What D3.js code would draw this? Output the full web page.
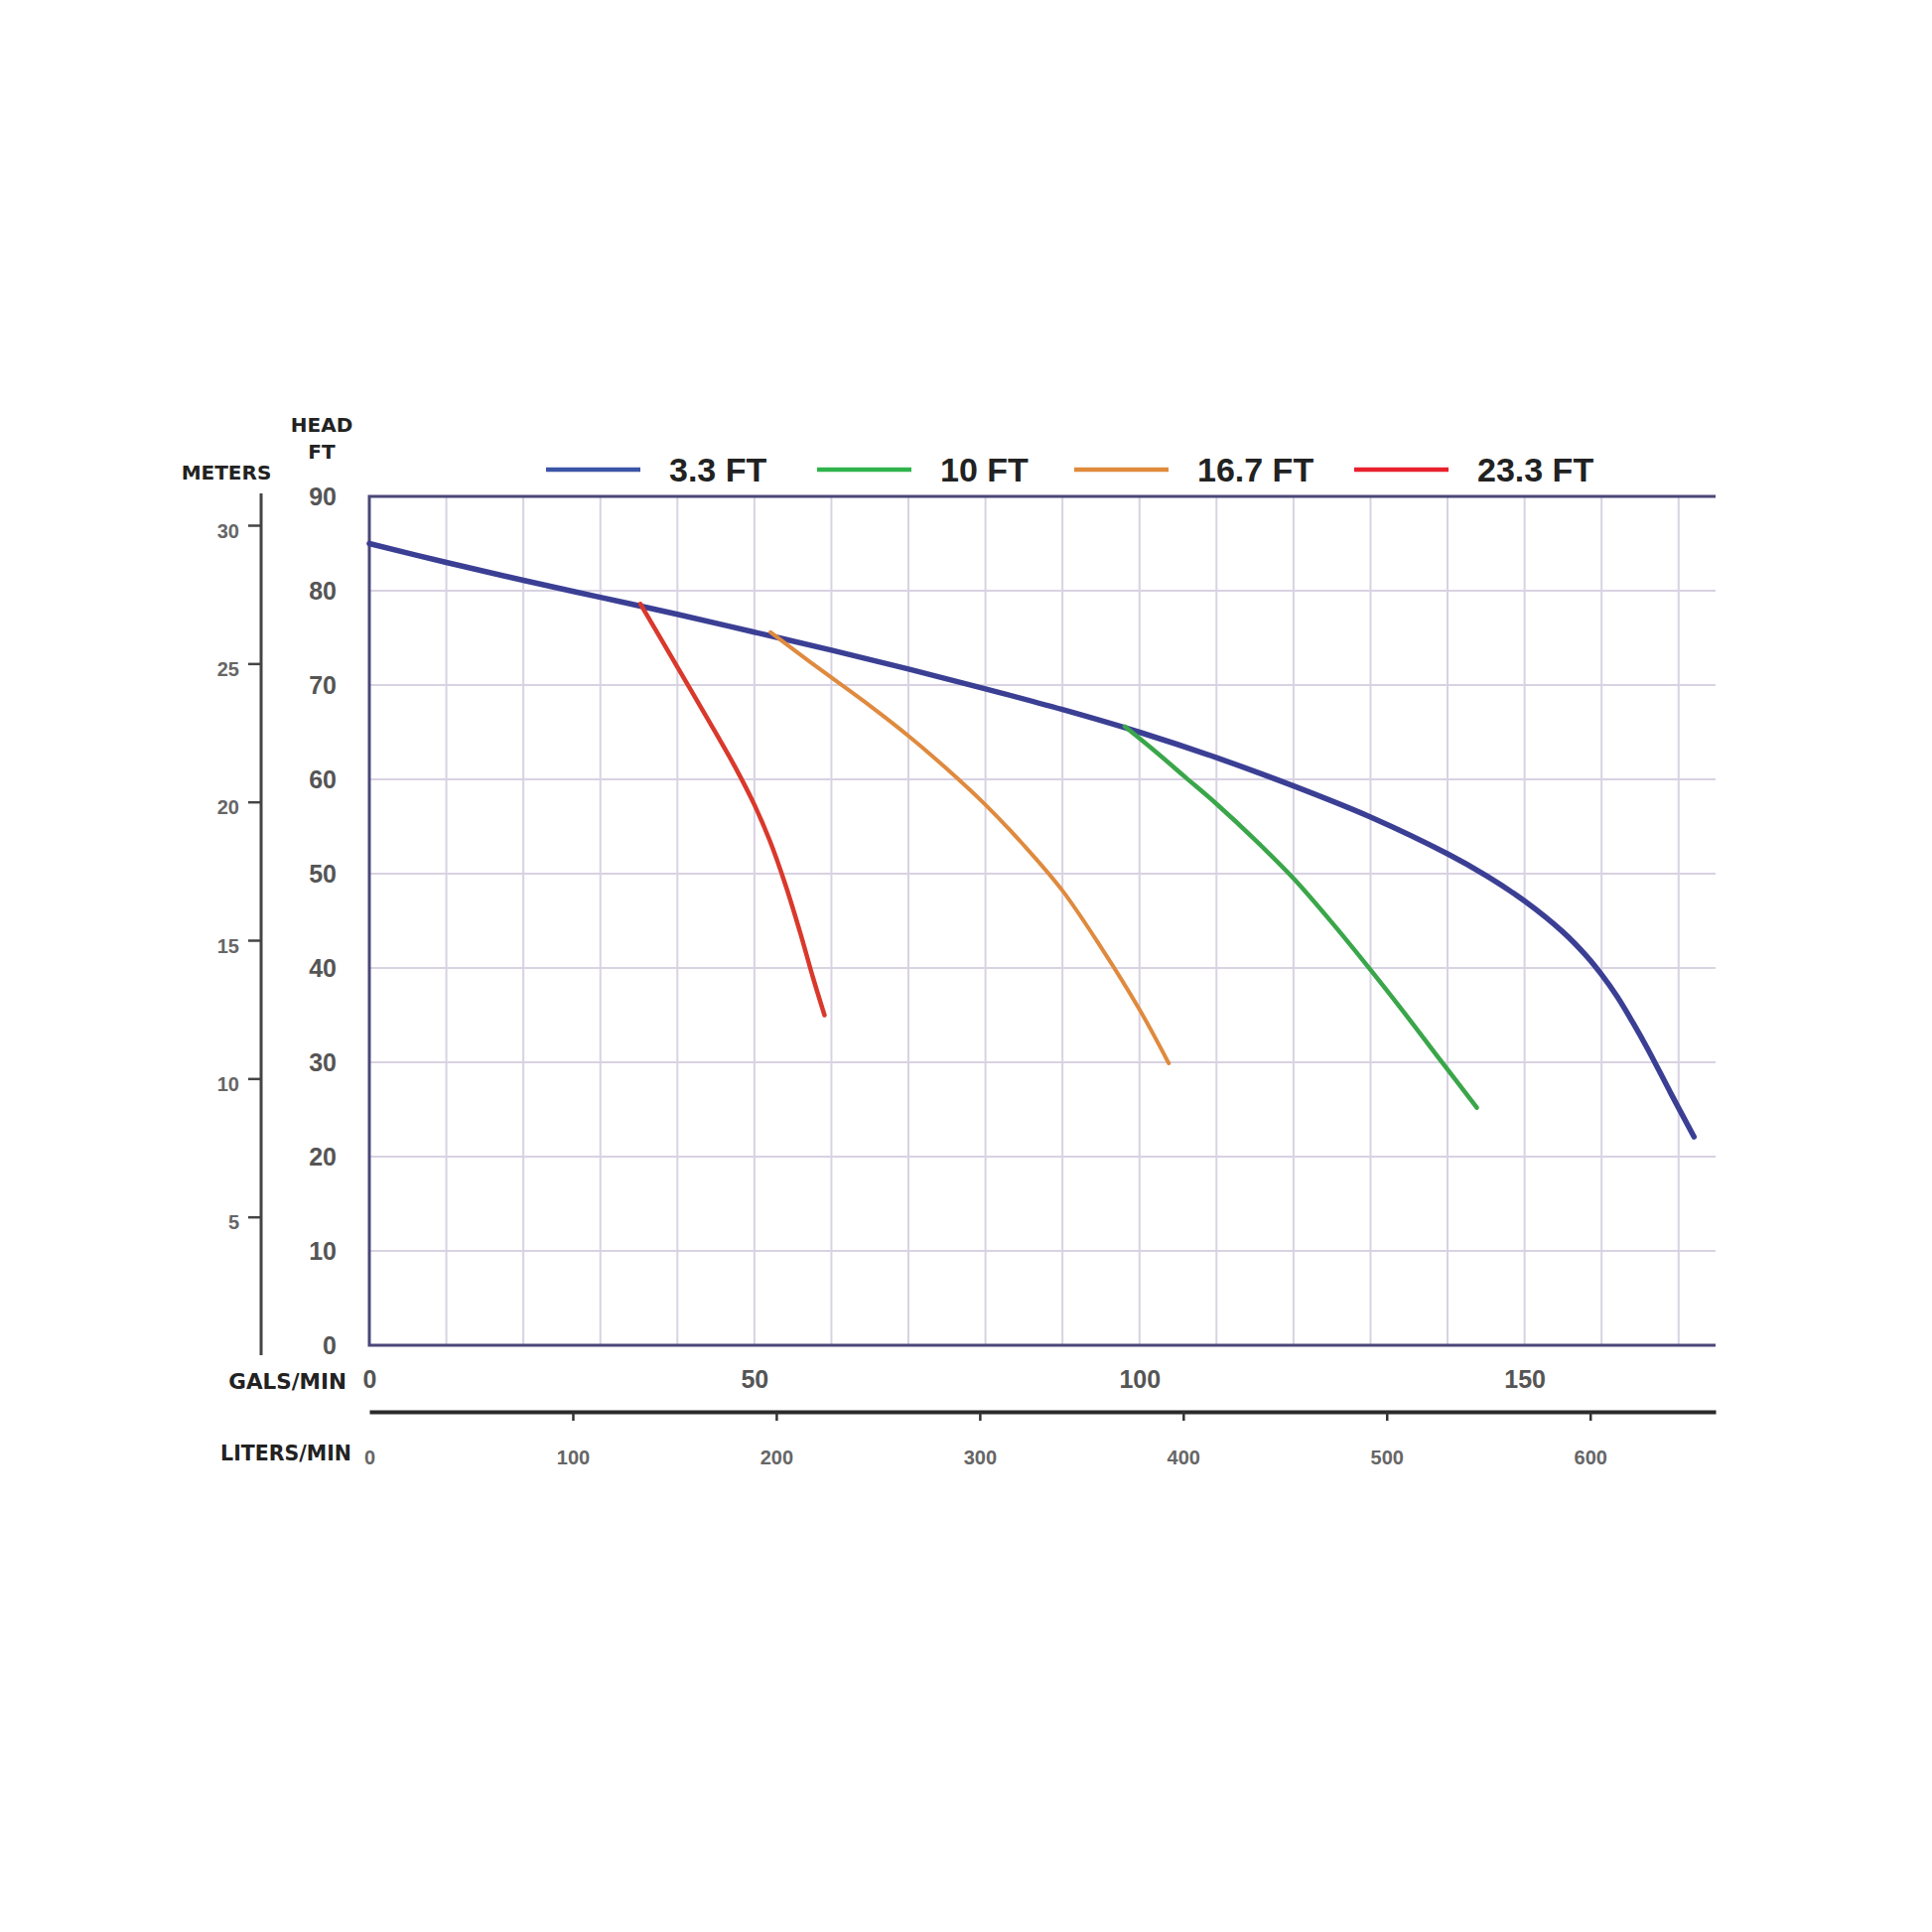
<!DOCTYPE html>
<html>
<head>
<meta charset="utf-8">
<script src="https://cdn.jsdelivr.net/npm/d3@7"></script>
<style>
  body { margin: 0; background: #fff; }
  svg { display: block; }
</style>
</head>
<body>
<script>
'use strict';

// pump curves, flow in gal/min, head in ft
const seriesNames = ["3.3 FT", "10 FT", "16.7 FT", "23.3 FT"];
const curve33 = [[0, 85.0], [10, 83.0], [20, 81.1], [30, 79.3], [40, 77.5], [50, 75.6], [60, 73.7],
  [70, 71.7], [80, 69.6], [90, 67.4], [100, 65.0], [110, 62.3], [120, 59.3], [130, 56.0],
  [140, 52.1], [145, 49.8], [150, 47.1], [155, 43.8], [158, 41.3], [160, 39.3], [162, 37.0],
  [164, 34.3], [166, 31.4], [169, 26.7], [172, 22.1]];
const curve10 = [[98.1, 65.6], [102, 63.0], [106, 60.2], [110, 57.4], [115, 53.6], [120, 49.5],
  [125, 44.8], [130, 39.8], [135, 34.6], [139, 30.3], [143.8, 25.2]];
const curve167 = [[52.1, 75.6], [56, 73.2], [60, 70.8], [65, 67.8], [70, 64.6], [75, 61.1],
  [80, 57.3], [85, 53.0], [90, 48.2], [95, 42.2], [100, 35.6], [103.8, 29.9]];
const curve233 = [[35.2, 78.6], [40, 71.9], [45, 64.9], [47.5, 61.3], [50, 57.3], [52, 53.5],
  [54, 48.9], [56, 43.6], [57.6, 39.0], [59.1, 35.0]];

const headTicks = [0, 10, 20, 30, 40, 50, 60, 70, 80, 90];
const meterTicks = [5, 10, 15, 20, 25, 30];
const gpmTicks = [0, 50, 100, 150];
const literTicks = [0, 100, 200, 300, 400, 500, 600];
const gpmGrid = d3.range(10, 171, 10);

const lineColors = ["#3b3f94", "#3aa64a", "#df8a3e", "#d9392c"];
const legendColors = ["#3b55a6", "#2fb34b", "#e08a3c", "#e8202c"];

const width = 1946, height = 1946;
const pLeft = 372, pRight = 1728, pTop = 500, pBottom = 1355;

let svg = d3.select("body").append("svg")
  .attr("width", width)
  .attr("height", height);

let x = d3.scaleLinear().domain([0, 174.8]).range([pLeft, pRight]);
let y = d3.scaleLinear().domain([0, 90]).range([pBottom, pTop]);
let xl = d3.scaleLinear().domain([0, 174.8 * 3.785]).range([pLeft, pRight]);
let ym = d3.scaleLinear().domain([0, 30]).range([1365, 529]);

// grid
let grid = svg.append("g").attr("stroke", "#d8d2e2").attr("stroke-width", 2);
grid.selectAll("line.v")
  .data(gpmGrid)
  .enter().append("line")
    .attr("class", "v")
    .attr("x1", d => x(d)).attr("x2", d => x(d))
    .attr("y1", pTop).attr("y2", pBottom);
grid.selectAll("line.h")
  .data(headTicks.filter(d => d > 0 && d < 90))
  .enter().append("line")
    .attr("class", "h")
    .attr("x1", pLeft).attr("x2", pRight)
    .attr("y1", d => y(d)).attr("y2", d => y(d));

// frame: top, left, bottom
svg.append("path")
  .attr("d", `M${pRight},${pTop}H${pLeft}V${pBottom}H${pRight}`)
  .attr("fill", "none")
  .attr("stroke", "#4a4778")
  .attr("stroke-width", 3);

// curves
let line = d3.line()
  .x(d => x(d[0]))
  .y(d => y(d[1]))
  .curve(d3.curveCatmullRom.alpha(0.5));

const curves = [curve33, curve10, curve167, curve233];
const widths = [5.5, 4.5, 4, 4.5];
svg.append("g")
  .selectAll("path")
  .data(curves)
  .enter().append("path")
    .attr("d", line)
    .attr("fill", "none")
    .attr("stroke", (d, i) => lineColors[i])
    .attr("stroke-width", (d, i) => widths[i])
    .attr("stroke-linecap", "round");

// head ft axis
let axFt = svg.append("g")
  .attr("transform", `translate(${pLeft},0)`)
  .call(d3.axisLeft(y).tickValues(headTicks).tickSize(0).tickPadding(33));
axFt.select(".domain").remove();
axFt.selectAll("text")
  .attr("font-family", "Liberation Sans, Arial, sans-serif")
  .attr("font-weight", "bold")
  .attr("font-size", 25)
  .attr("fill", "#555");

// meters axis
let axM = svg.append("g")
  .attr("transform", "translate(263,0)")
  .call(d3.axisLeft(ym).tickValues(meterTicks).tickSize(13).tickSizeOuter(0).tickPadding(9));
axM.select(".domain")
  .attr("d", `M0,${ym(0)}V497`)
  .attr("stroke", "#444")
  .attr("stroke-width", 3);
axM.selectAll(".tick line").attr("stroke", "#444").attr("stroke-width", 2.5);
axM.selectAll("text")
  .attr("font-family", "Liberation Sans, Arial, sans-serif")
  .attr("font-weight", "bold")
  .attr("font-size", 20)
  .attr("fill", "#666")
  .attr("dy", "0.6em");

// gal/min axis
let axG = svg.append("g")
  .attr("transform", `translate(0,${pBottom})`)
  .call(d3.axisBottom(x).tickValues(gpmTicks).tickSize(0).tickPadding(25));
axG.select(".domain").remove();
axG.selectAll("text")
  .attr("font-family", "Liberation Sans, Arial, sans-serif")
  .attr("font-weight", "bold")
  .attr("font-size", 25)
  .attr("fill", "#555");

// liters/min axis
let axL = svg.append("g")
  .attr("transform", "translate(0,1422)")
  .call(d3.axisBottom(xl).tickValues(literTicks).tickSize(9).tickSizeOuter(0).tickPadding(30));
axL.select(".domain").attr("stroke", "#2a2a2a").attr("stroke-width", 4);
axL.selectAll(".tick line").attr("stroke", "#333").attr("stroke-width", 2.5);
axL.selectAll(".tick").filter(d => d === 0).select("line").remove();
axL.selectAll("text")
  .attr("font-family", "Liberation Sans, Arial, sans-serif")
  .attr("font-weight", "bold")
  .attr("font-size", 20)
  .attr("fill", "#666");

// axis titles
const titleFont = "DejaVu Sans, sans-serif";
const titles = [
  {t: "HEAD", x: 324, y: 435, a: "middle", s: 20},
  {t: "FT", x: 324, y: 462, a: "middle", s: 20},
  {t: "METERS", x: 228, y: 483, a: "middle", s: 20},
  {t: "GALS/MIN", x: 349, y: 1399, a: "end", s: 21.5},
  {t: "LITERS/MIN", x: 354, y: 1471, a: "end", s: 20.5}
];
svg.append("g")
  .selectAll("text")
  .data(titles)
  .enter().append("text")
    .attr("x", d => d.x)
    .attr("y", d => d.y)
    .attr("text-anchor", d => d.a)
    .attr("font-family", titleFont)
    .attr("font-weight", "bold")
    .attr("font-size", d => d.s)
    .attr("fill", "#222")
    .text(d => d.t);

// legend
const legendX = [550, 823, 1082, 1364];
let lg = svg.append("g").selectAll("g")
  .data(seriesNames)
  .enter().append("g")
    .attr("transform", (d, i) => `translate(${legendX[i]},473)`);
lg.append("line")
  .attr("x1", 0).attr("x2", 95)
  .attr("stroke", (d, i) => legendColors[i])
  .attr("stroke-width", 4.5);
lg.append("text")
  .attr("x", 124)
  .attr("dy", "0.36em")
  .attr("font-family", "Liberation Sans, Arial, sans-serif")
  .attr("font-weight", "bold")
  .attr("font-size", 34)
  .attr("fill", "#222")
  .text(d => d);
</script>
</body>
</html>
